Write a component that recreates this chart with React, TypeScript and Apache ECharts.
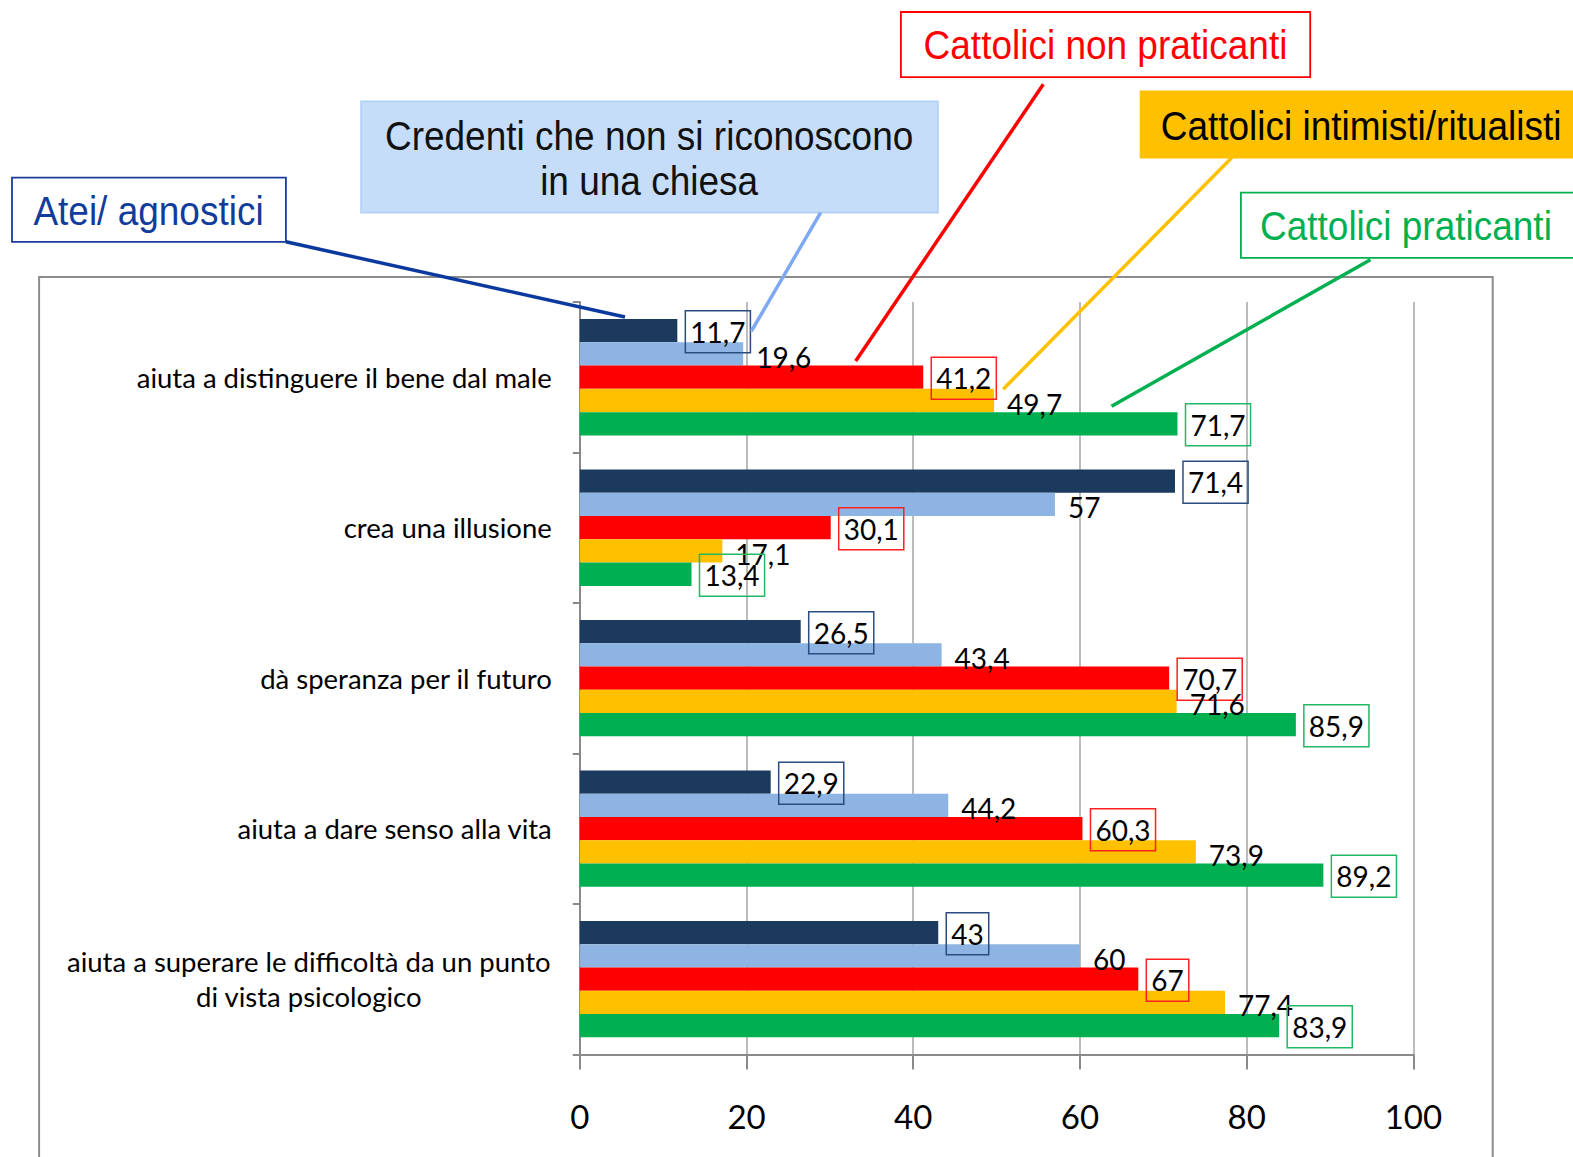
import React, { useEffect, useRef } from "react";
import * as echarts from "echarts";

const categories = [
  "aiuta a distinguere il bene dal male",
  "crea una illusione",
  "dà speranza per il futuro",
  "aiuta a dare senso alla vita",
  "aiuta a superare le difficoltà da un punto\ndi vista psicologico",
];
const seriesNames = [
  "Atei/ agnostici",
  "Credenti che non si riconoscono in una chiesa",
  "Cattolici non praticanti",
  "Cattolici intimisti/ritualisti",
  "Cattolici praticanti",
];
const atei = [11.7, 71.4, 26.5, 22.9, 43];
const credenti = [19.6, 57, 43.4, 44.2, 60];
const nonPraticanti = [41.2, 30.1, 70.7, 60.3, 67];
const intimisti = [49.7, 17.1, 71.6, 73.9, 77.4];
const praticanti = [71.7, 13.4, 85.9, 89.2, 83.9];
const xMin = 0;
const xMax = 100;
const xInterval = 20;

const colors = ["#1B3A5E", "#8DB4E2", "#FF0000", "#FFC000", "#00B050"];
const boxColors = ["#2B4C80", null, "#FF2020", null, "#22B865"];

const fmt = (v: number) => String(v).replace(".", ",");
const K = 1573 / 1568;
const s = (v: number) => Math.round(v * K * 10) / 10;

export default function App() {
  const ref = useRef<HTMLDivElement>(null);
  useEffect(() => {
    const chart = echarts.init(ref.current!, null, { renderer: "svg" });
    const allData = [atei, credenti, nonPraticanti, intimisti, praticanti];
    const series = allData.map((d, i) => ({
      name: seriesNames[i],
      type: "bar",
      data: d,
      barGap: "0%",
      barCategoryGap: "22.7%",
      itemStyle: { color: colors[i] },
      label: {
        show: true,
        position: "right",
        distance: 8,
        formatter: (p: any) => fmt(p.value),
        color: "#000",
        fontFamily: "Lato",
        fontSize: 28,
        lineHeight: 31,
        padding: [6, 5, 5, 5],
        borderColor: boxColors[i] || "transparent",
        borderWidth: boxColors[i] ? 1.5 : 0,
        offset: boxColors[i] ? [0, 1] : [0, 3],
      },
    }));

    const annText = (
      text: string,
      x: number,
      y: number,
      color: string,
      align: string
    ) => ({
      type: "text",
      x: s(x),
      y: s(y),
      scaleY: 1.1,
      z: 100,
      style: {
        text,
        x: 0,
        y: 0,
        fill: color,
        fontSize: 37,
        fontFamily: "Liberation Sans",
        lineHeight: 41,
        textAlign: align,
        textVerticalAlign: "middle",
      },
    });
    const annLine = (x1: number, y1: number, x2: number, y2: number, color: string) => ({
      type: "line",
      z: 100,
      shape: { x1: s(x1), y1: s(y1), x2: s(x2), y2: s(y2) },
      style: { stroke: color, lineWidth: 3.5 },
    });
    const annRect = (x: number, y: number, w: number, h: number, fill: string, stroke: string) => ({
      type: "rect",
      z: 99,
      shape: { x: s(x), y: s(y), width: s(w), height: s(h) },
      style: { fill, stroke, lineWidth: 1.8 },
    });

    chart.setOption({
      animation: false,
      backgroundColor: "#fff",
      grid: { left: s(578), top: s(301), width: s(831), height: s(750), containLabel: false },
      xAxis: {
        type: "value",
        min: xMin,
        max: xMax,
        interval: xInterval,
        axisLine: { show: true, lineStyle: { color: "#8A8A8A", width: 2 } },
        axisTick: { show: true, length: 15, lineStyle: { color: "#8A8A8A", width: 2 } },
        splitLine: { show: true, lineStyle: { color: "#A6A6A6", width: 1.5 } },
        axisLabel: {
          color: "#000",
          fontFamily: "Lato",
          fontSize: 33,
          margin: 45,
        },
      },
      yAxis: {
        type: "category",
        data: categories,
        inverse: true,
        axisLine: { show: true, lineStyle: { color: "#8A8A8A", width: 2 } },
        axisTick: { show: true, length: 7, lineStyle: { color: "#8A8A8A", width: 2 } },
        axisLabel: {
          color: "#000",
          fontFamily: "Lato",
          fontSize: 27.5,
          margin: 28,
          formatter: (v: string) =>
            v.includes("\n")
              ? v
                  .split("\n")
                  .map((l) => `{c|${l}}`)
                  .join("\n")
              : v,
          rich: {
            c: {
              width: 486,
              align: "center",
              color: "#000",
              fontFamily: "Lato",
              fontSize: 27.5,
              lineHeight: 35,
            },
          },
        },
      },
      series,
      graphic: [
        {
          type: "rect",
          z: -1,
          shape: { x: s(39), y: s(276), width: s(1449), height: 900 },
          style: { fill: "none", stroke: "#8C8C8C", lineWidth: 2 },
        },
        annRect(12, 177, 273, 64, "#fff", "#1A3C9A"),
        annText("Atei/ agnostici", 148, 210, "#123C9C", "center"),
        annLine(285, 241, 623, 316, "#0A3A9E"),
        annRect(360, 101, 575, 111, "#C6DDFA", "#B3D0F5"),
        annText("Credenti che non si riconoscono\nin una chiesa", 647, 158, "#111", "center"),
        annLine(818, 212, 749, 330, "#7EA9F2"),
        annRect(898, 12, 408, 65, "#fff", "#FF0000"),
        annText("Cattolici non praticanti", 1102, 45, "#FF0000", "center"),
        annLine(1040, 84, 853, 360, "#FF0000"),
        annRect(1137, 91, 440, 66, "#FFC000", "#FFC000"),
        annText("Cattolici intimisti/ritualisti", 1157, 125, "#000", "left"),
        annLine(1228, 157, 1000, 388, "#FFC000"),
        annRect(1237, 192, 340, 65, "#fff", "#00B050"),
        annText("Cattolici praticanti", 1256, 225, "#00B050", "left"),
        annLine(1366, 259, 1108, 405, "#00B050"),
      ],
    });
    return () => chart.dispose();
  }, []);
  return (
    <div
      ref={ref}
      style={{ position: "absolute", left: 0, top: 0, width: 1573, height: 1157 }}
    />
  );
}
